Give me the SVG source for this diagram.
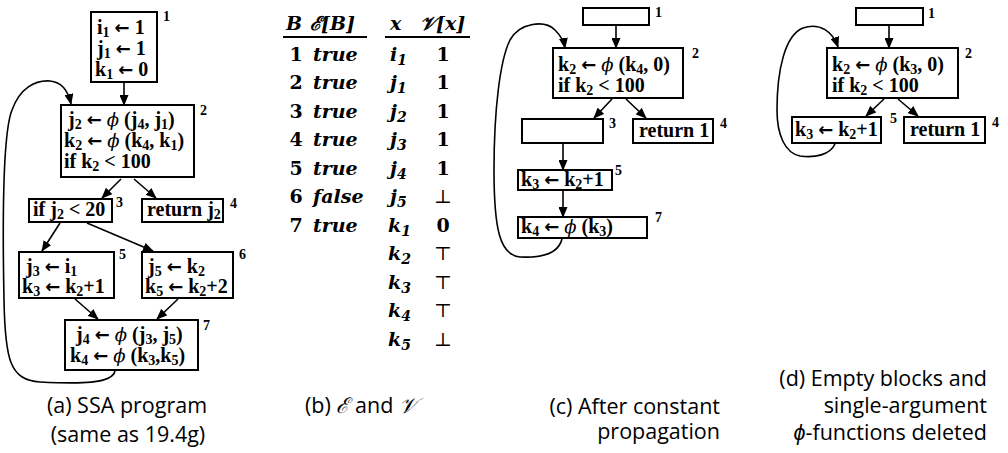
<svg xmlns="http://www.w3.org/2000/svg" width="1008" height="453" viewBox="0 0 1008 453">
<style>
.b{fill:#fff;stroke:#000;stroke-width:2}
.t{font-family:"Liberation Serif",serif;font-weight:bold;font-size:20px;fill:#000}
.s{font-size:14px}
.a{font-family:"DejaVu Sans",sans-serif;font-weight:bold;font-size:18px}
.p{font-family:"DejaVu Serif",serif;font-style:italic;font-weight:normal;font-size:18px}
.n{font-family:"Liberation Serif",serif;font-weight:bold;font-size:14px;fill:#000}
.e{fill:none;stroke:#000;stroke-width:1.6;marker-end:url(#ah)}
.tb{font-family:"DejaVu Serif",serif;font-weight:bold;font-size:19px;fill:#000}
.it{font-style:italic}
.cap{font-family:"Open Sans",sans-serif;font-size:21.5px;fill:#000}
</style>
<defs>
<marker id="ah" markerUnits="userSpaceOnUse" markerWidth="11" markerHeight="9" refX="10" refY="4.5" orient="auto">
<path d="M0,0 L11,4.5 L0,9 z" fill="#000"/>
</marker>
</defs>

<g id="connectors">
<line class="e" x1="124" y1="82" x2="124" y2="105"/>
<line class="e" x1="121" y1="179" x2="102" y2="198"/>
<line class="e" x1="134" y1="179" x2="156" y2="198"/>
<line class="e" x1="60" y1="223" x2="42" y2="251"/>
<line class="e" x1="87" y1="223" x2="153" y2="251"/>
<line class="e" x1="75" y1="299" x2="98" y2="319"/>
<line class="e" x1="178" y1="299" x2="157" y2="319"/>
<path class="e" d="M115,371 C112,384 80,384 40,382 C10,380 5,360 4,300 C2,200 4,130 12,110 C20,88 35,80 50,81 C62,82 68,90 71,104"/>

<line class="e" x1="616" y1="25" x2="616" y2="48"/>
<line class="e" x1="612" y1="99" x2="594" y2="118"/>
<line class="e" x1="626" y1="99" x2="646" y2="118"/>
<line class="e" x1="563" y1="143" x2="563" y2="170"/>
<line class="e" x1="563" y1="190" x2="563" y2="217"/>
<path class="e" d="M562,239 C558,255 540,258 520,257 C500,255 494,230 494,170 C494,110 500,60 510,40 C520,22 545,20 555,30 C561,36 564,42 565,48"/>

<line class="e" x1="889" y1="25" x2="889" y2="48"/>
<line class="e" x1="884" y1="99" x2="866" y2="116"/>
<line class="e" x1="898" y1="99" x2="918" y2="116"/>
<path class="e" d="M835,144 C830,155 815,158 800,156 C785,153 777,135 777,110 C777,70 785,35 803,28 C820,22 833,32 838,47"/>
</g>

<!-- panel a -->
<g id="a1">
<rect class="b" x="91" y="12" width="66" height="70"/>
<text class="t" x="97" y="34">i<tspan class="s" dy="3">1</tspan><tspan dy="-3"> <tspan class="a">←</tspan> 1</tspan></text>
<text class="t" x="97" y="55">j<tspan class="s" dy="3">1</tspan><tspan dy="-3"> <tspan class="a">←</tspan> 1</tspan></text>
<text class="t" x="95" y="76">k<tspan class="s" dy="3">1</tspan><tspan dy="-3"> <tspan class="a">←</tspan> 0</tspan></text>
<text class="n" x="163" y="21">1</text>
</g>
<g id="a2">
<rect class="b" x="61" y="105" width="133" height="72"/>
<text class="t" x="68" y="126">j<tspan class="s" dy="3">2</tspan><tspan dy="-3"> <tspan class="a">←</tspan> <tspan class="p">ϕ</tspan> (j</tspan><tspan class="s" dy="3">4</tspan><tspan dy="-3">,  j</tspan><tspan class="s" dy="3">1</tspan><tspan dy="-3">)</tspan></text>
<text class="t" x="64" y="147">k<tspan class="s" dy="3">2</tspan><tspan dy="-3"> <tspan class="a">←</tspan> <tspan class="p">ϕ</tspan> (k</tspan><tspan class="s" dy="3">4</tspan><tspan dy="-3">, k</tspan><tspan class="s" dy="3">1</tspan><tspan dy="-3">)</tspan></text>
<text class="t" x="64" y="168">if k<tspan class="s" dy="3">2</tspan><tspan dy="-3"> &lt; 100</tspan></text>
<text class="n" x="200" y="115">2</text>
</g>
<g id="a3">
<rect class="b" x="29" y="199" width="83" height="23"/>
<text class="t" x="33" y="216">if j<tspan class="s" dy="3">2</tspan><tspan dy="-3"> &lt; 20</tspan></text>
<text class="n" x="116" y="207">3</text>
</g>
<g id="a4">
<rect class="b" x="142" y="199" width="81" height="23"/>
<text class="t" x="147" y="216">return j<tspan class="s" dy="3">2</tspan></text>
<text class="n" x="230" y="208">4</text>
</g>
<g id="a5">
<rect class="b" x="19" y="252" width="95" height="46"/>
<text class="t" x="26" y="273">j<tspan class="s" dy="3">3</tspan><tspan dy="-3"> <tspan class="a">←</tspan> i</tspan><tspan class="s" dy="3">1</tspan></text>
<text class="t" x="22" y="293">k<tspan class="s" dy="3">3</tspan><tspan dy="-3"> <tspan class="a">←</tspan> k</tspan><tspan class="s" dy="3">2</tspan><tspan dy="-3">+1</tspan></text>
<text class="n" x="119" y="259">5</text>
</g>
<g id="a6">
<rect class="b" x="142" y="252" width="91" height="46"/>
<text class="t" x="148" y="273">j<tspan class="s" dy="3">5</tspan><tspan dy="-3"> <tspan class="a">←</tspan> k</tspan><tspan class="s" dy="3">2</tspan></text>
<text class="t" x="145" y="293">k<tspan class="s" dy="3">5</tspan><tspan dy="-3"> <tspan class="a">←</tspan> k</tspan><tspan class="s" dy="3">2</tspan><tspan dy="-3">+2</tspan></text>
<text class="n" x="239" y="259">6</text>
</g>
<g id="a7">
<rect class="b" x="65" y="320" width="133" height="50"/>
<text class="t" x="76" y="341">j<tspan class="s" dy="3">4</tspan><tspan dy="-3"> <tspan class="a">←</tspan> <tspan class="p">ϕ</tspan> (j</tspan><tspan class="s" dy="3">3</tspan><tspan dy="-3">, j</tspan><tspan class="s" dy="3">5</tspan><tspan dy="-3">)</tspan></text>
<text class="t" x="70" y="362">k<tspan class="s" dy="3">4</tspan><tspan dy="-3"> <tspan class="a">←</tspan> <tspan class="p">ϕ</tspan> (k</tspan><tspan class="s" dy="3">3</tspan><tspan dy="-3">,k</tspan><tspan class="s" dy="3">5</tspan><tspan dy="-3">)</tspan></text>
<text class="n" x="203" y="330">7</text>
</g>
<text class="cap" x="127" y="413" text-anchor="middle">(a) SSA program</text>
<text class="cap" x="128" y="442" text-anchor="middle">(same as 19.4g)</text>

<!-- panel b table -->
<g id="table">
<text class="tb it" x="286" y="30">B</text>
<text class="tb it" x="310" y="30">ℰ[B]</text>
<text class="tb it" x="390" y="30">x</text>
<text class="tb it" x="420" y="30">𝒱[x]</text>
<line x1="283" y1="37" x2="367" y2="37" stroke="#000" stroke-width="2"/>
<line x1="385" y1="37" x2="470" y2="37" stroke="#000" stroke-width="2"/>
<g class="tb" text-anchor="middle">
<text x="296" y="61">1</text>
<text x="296" y="89">2</text>
<text x="296" y="118">3</text>
<text x="296" y="146">4</text>
<text x="296" y="175">5</text>
<text x="296" y="203">6</text>
<text x="296" y="232">7</text>
</g>
<g class="tb it">
<text x="313" y="61">true</text>
<text x="313" y="89">true</text>
<text x="313" y="118">true</text>
<text x="313" y="146">true</text>
<text x="313" y="175">true</text>
<text x="313" y="203">false</text>
<text x="313" y="232">true</text>
<text x="390" y="61">i<tspan font-size="14" dy="4">1</tspan></text>
<text x="390" y="89">j<tspan font-size="14" dy="4">1</tspan></text>
<text x="390" y="118">j<tspan font-size="14" dy="4">2</tspan></text>
<text x="390" y="146">j<tspan font-size="14" dy="4">3</tspan></text>
<text x="390" y="175">j<tspan font-size="14" dy="4">4</tspan></text>
<text x="390" y="203">j<tspan font-size="14" dy="4">5</tspan></text>
<text x="388" y="232">k<tspan font-size="14" dy="4">1</tspan></text>
<text x="388" y="260">k<tspan font-size="14" dy="4">2</tspan></text>
<text x="388" y="289">k<tspan font-size="14" dy="4">3</tspan></text>
<text x="388" y="317">k<tspan font-size="14" dy="4">4</tspan></text>
<text x="388" y="346">k<tspan font-size="14" dy="4">5</tspan></text>
</g>
<g class="tb" text-anchor="middle">
<text x="443" y="61">1</text>
<text x="443" y="89">1</text>
<text x="443" y="118">1</text>
<text x="443" y="146">1</text>
<text x="443" y="175">1</text>
<text x="443" y="203" font-weight="normal">⊥</text>
<text x="443" y="232">0</text>
<text x="443" y="260" font-weight="normal">⊤</text>
<text x="443" y="289" font-weight="normal">⊤</text>
<text x="443" y="317" font-weight="normal">⊤</text>
<text x="443" y="346" font-weight="normal">⊥</text>
</g>
</g>
<text class="cap" x="305" y="413">(b) <tspan font-style="italic">ℰ</tspan> and <tspan font-style="italic">𝒱</tspan></text>

<!-- panel c -->
<g id="c1">
<rect class="b" x="583" y="8" width="66" height="17"/>
<text class="n" x="655" y="17">1</text>
</g>
<g id="c2">
<rect class="b" x="553" y="48" width="130" height="50"/>
<text class="t" x="558" y="71">k<tspan class="s" dy="3">2</tspan><tspan dy="-3"> <tspan class="a">←</tspan> <tspan class="p">ϕ</tspan> (k</tspan><tspan class="s" dy="3">4</tspan><tspan dy="-3">, 0)</tspan></text>
<text class="t" x="558" y="92">if k<tspan class="s" dy="3">2</tspan><tspan dy="-3"> &lt; 100</tspan></text>
<text class="n" x="692" y="58">2</text>
</g>
<g id="c3">
<rect class="b" x="522" y="119" width="81" height="24"/>
<text class="n" x="609" y="128">3</text>
</g>
<g id="c4">
<rect class="b" x="633" y="119" width="80" height="24"/>
<text class="t" x="639" y="137">return 1</text>
<text class="n" x="720" y="128">4</text>
</g>
<g id="c5">
<rect class="b" x="518" y="170" width="94" height="20"/>
<text class="t" x="521" y="186">k<tspan class="s" dy="3">3</tspan><tspan dy="-3"> <tspan class="a">←</tspan> k</tspan><tspan class="s" dy="3">2</tspan><tspan dy="-3">+1</tspan></text>
<text class="n" x="615" y="175">5</text>
</g>
<g id="c7">
<rect class="b" x="518" y="217" width="129" height="21"/>
<text class="t" x="521" y="233">k<tspan class="s" dy="3">4</tspan><tspan dy="-3"> <tspan class="a">←</tspan> <tspan class="p">ϕ</tspan> (k</tspan><tspan class="s" dy="3">3</tspan><tspan dy="-3">)</tspan></text>
<text class="n" x="655" y="222">7</text>
</g>
<text class="cap" x="720" y="414" text-anchor="end">(c) After constant</text>
<text class="cap" x="720" y="439" text-anchor="end">propagation</text>

<!-- panel d -->
<g id="d1">
<rect class="b" x="856" y="8" width="67" height="17"/>
<text class="n" x="928" y="18">1</text>
</g>
<g id="d2">
<rect class="b" x="827" y="48" width="131" height="50"/>
<text class="t" x="832" y="71">k<tspan class="s" dy="3">2</tspan><tspan dy="-3"> <tspan class="a">←</tspan> <tspan class="p">ϕ</tspan> (k</tspan><tspan class="s" dy="3">3</tspan><tspan dy="-3">, 0)</tspan></text>
<text class="t" x="832" y="92">if k<tspan class="s" dy="3">2</tspan><tspan dy="-3"> &lt; 100</tspan></text>
<text class="n" x="965" y="58">2</text>
</g>
<g id="d5">
<rect class="b" x="792" y="117" width="89" height="26"/>
<text class="t" x="795" y="136">k<tspan class="s" dy="3">3</tspan><tspan dy="-3"> <tspan class="a">←</tspan> k</tspan><tspan class="s" dy="3">2</tspan><tspan dy="-3">+1</tspan></text>
<text class="n" x="890" y="123">5</text>
</g>
<g id="d4">
<rect class="b" x="904" y="117" width="81" height="26"/>
<text class="t" x="910" y="136">return 1</text>
<text class="n" x="992" y="127">4</text>
</g>
<text class="cap" x="987" y="386" text-anchor="end">(d) Empty blocks and</text>
<text class="cap" x="987" y="413" text-anchor="end">single-argument</text>
<text class="cap" x="987" y="440" text-anchor="end"><tspan font-style="italic">ϕ</tspan>-functions deleted</text>
</svg>
